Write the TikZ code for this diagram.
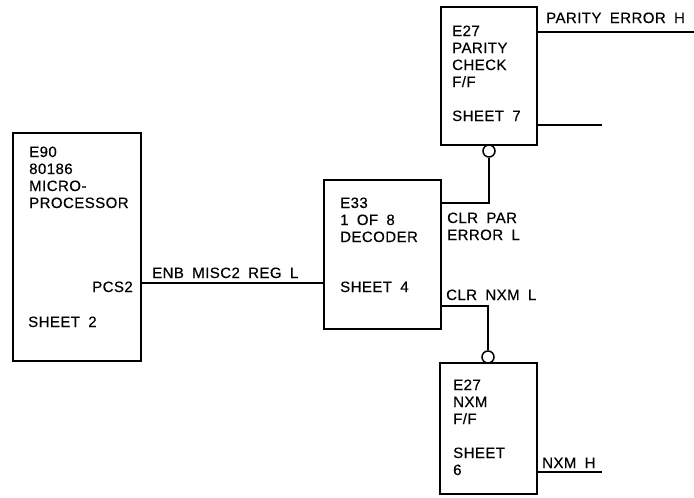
\documentclass[tikz,border=0pt]{standalone}
\usepackage{fontspec}
\setmainfont{Liberation Sans}[LetterSpace=3,WordSpace=1.8,FakeBold=0.4]
\begin{document}
\begin{tikzpicture}[x=1pt,y=-1pt,
  box/.style={draw,line width=1.8pt},
  wire/.style={line width=1.3pt},
  lbl/.style={anchor=base west,inner sep=0pt,font=\fontsize{15}{17}\selectfont},
  bubble/.style={circle,draw,line width=1.5pt,minimum size=12pt,inner sep=0pt,fill=white}]
\useasboundingbox (0,0) rectangle (694,498);
% boxes
\draw[box] (13,133) rectangle (141,361);
\draw[box] (324,180) rectangle (441,329);
\draw[box] (441,7) rectangle (537,145);
\draw[box] (440,363) rectangle (537,494);
% coordinates
\coordinate (pcs) at (141,283);
\coordinate (decin) at (324,283);
\coordinate (decpar) at (441,203);
\coordinate (parbend) at (489,203);
\coordinate (decnxm) at (441,306);
\coordinate (nxmbend) at (488,306);
\coordinate (ff1out) at (537,32);
\coordinate (ff1end) at (694,32);
\coordinate (ff1q) at (537,125);
\coordinate (ff1qend) at (602,125);
\coordinate (ff2out) at (537,472);
\coordinate (ff2end) at (602,472);
% bubbles
\node[bubble] (b1) at (489,151) {};
\node[bubble] (b2) at (488,357) {};
% wires
\draw[wire] (pcs) -- (decin);
\draw[wire] (decpar) -- (parbend) -- (b1.south);
\draw[wire] (decnxm) -- (nxmbend) -- (b2.north);
\draw[wire] (ff1out) -- (ff1end);
\draw[wire] (ff1q) -- (ff1qend);
\draw[wire] (ff2out) -- (ff2end);
% left box text
\node[lbl] (t1) at (29,157) {E90};
\node[lbl] (t2) at (29,174) {80186};
\node[lbl] (t3) at (29,191) {MICRO-};
\node[lbl] (t4) at (29,208) {PROCESSOR};
\node[lbl,anchor=base east] (t5) at (133,292) {PCS2};
\node[lbl] (t6) at (28,327) {SHEET 2};
\node[lbl] (t7) at (152,278) {ENB MISC2 REG L};
% decoder text
\node[lbl] (d1) at (340,208) {E33};
\node[lbl] (d2) at (340,225) {1 OF 8};
\node[lbl] (d3) at (340,242) {DECODER};
\node[lbl] (d4) at (340,292) {SHEET 4};
\node[lbl] (c1) at (447,223) {CLR PAR};
\node[lbl] (c2) at (447,240) {ERROR L};
\node[lbl] (c3) at (446,300) {CLR NXM L};
% ff1 text
\node[lbl] (f1) at (452,36) {E27};
\node[lbl] (f2) at (452,53) {PARITY};
\node[lbl] (f3) at (452,70) {CHECK};
\node[lbl] (f4) at (452,87) {F/F};
\node[lbl] (f5) at (452,121) {SHEET 7};
\node[lbl] (p1) at (546,23) {PARITY ERROR H};
% ff2 text
\node[lbl] (g1) at (453,390) {E27};
\node[lbl] (g2) at (453,407) {NXM};
\node[lbl] (g3) at (453,424) {F/F};
\node[lbl] (g4) at (453,458) {SHEET};
\node[lbl] (g5) at (453,475) {6};
\node[lbl] (n1) at (542,468) {NXM H};
\end{tikzpicture}
\end{document}
